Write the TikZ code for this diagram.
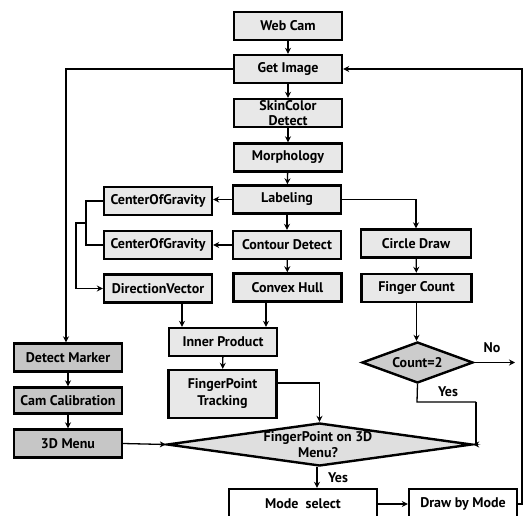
\documentclass[tikz,border=0pt]{standalone}
\usepackage{fontspec}
\setmainfont{PT Sans}
\usetikzlibrary{arrows.meta,shapes.geometric}
\begin{document}
\begin{tikzpicture}[x=1pt,y=-1pt,
  every node/.style={font=\bfseries\fontsize{14}{16}\selectfont},
  box/.style={draw,line width=2.4pt,fill=gray!18,minimum width=108pt,minimum height=28pt,inner sep=0pt,align=center},
  darkbox/.style={box,fill=gray!45},
  whitebox/.style={box,fill=white},
  dia/.style={draw,diamond,line width=2.4pt,inner sep=0pt},
  lbl/.style={inner sep=0pt,align=center},
  conn/.style={line width=1.3pt,-{Stealth[length=6pt,width=6pt]}},
  plain/.style={line width=1.3pt}]
\useasboundingbox (0,0) rectangle (525,516);
% boxes
\node[box] (webcam) at (288,26) {Web Cam};
\node[box] (getimg) at (288,69) {Get Image};
\node[box,font=\bfseries\fontsize{14}{16}\selectfont] (skin) at (288,113) {SkinColor\\[-1pt]Detect};
\node[box] (morph) at (288,157.5) {Morphology};
\node[box] (label) at (287,199.5) {Labeling};
\node[box] (cogA) at (158,201) {CenterOfGravity};
\node[box] (cogB) at (158,245) {CenterOfGravity};
\node[box] (contour) at (287,245) {Contour Detect};
\node[box,minimum width=110pt] (circle) at (416,243.5) {Circle Draw};
\node[box] (dirvec) at (158,288.5) {DirectionVector};
\node[box] (hull) at (287.5,287.5) {Convex Hull};
\node[box,minimum width=110pt] (fcount) at (416.5,288) {Finger Count};
\node[box] (inner) at (223,342) {Inner Product};
\node[box,minimum height=48pt,font=\bfseries\fontsize{14}{17}\selectfont] (fptrack) at (222.5,394) {FingerPoint\\Tracking};
\node[darkbox] (detect) at (68,357.5) {Detect Marker};
\node[darkbox,minimum height=26pt] (camcal) at (68,400.5) {Cam Calibration};
\node[darkbox] (menu) at (68,443.5) {3D Menu};
\node[dia,fill=gray!40,minimum width=111pt,minimum height=41pt] (count) at (417.5,362.5) {};
\node[lbl] (counttxt) at (417.5,362.5) {Count=2};
\node[dia,fill=gray!25,minimum width=305pt,minimum height=43pt] (fpmenu) at (319.5,444.5) {};
\node[lbl,font=\bfseries\fontsize{14}{16}\selectfont] (fpmenutxt) at (318,445) {FingerPoint on 3D\\Menu?};
\node[whitebox,minimum width=148pt,minimum height=30pt] (mode) at (303,504) {Mode\ \ select};
\node[whitebox,minimum height=30pt] (drawmode) at (463,504) {Draw by Mode};
% labels
\node[lbl] (no) at (492,348) {No};
\node[lbl] (yes1) at (448,392) {Yes};
\node[lbl] (yes2) at (338,478) {Yes};
% coordinates
\coordinate (bA) at (86,201);
\coordinate (bB) at (86,245);
\coordinate (bM) at (86,223);
\coordinate (bL) at (76,223);
\coordinate (leftrail) at (66,69);
\coordinate (rightrail) at (522,504);
\coordinate (noend) at (515,362.5);
\coordinate (yesturn) at (417,402);
\coordinate (yesrail) at (476,402);
% connectors
\draw[conn] (webcam) -- (getimg);
\draw[conn] (getimg) -- (skin);
\draw[conn] (skin) -- (morph);
\draw[conn] (morph) -- (label);
\draw[conn] (label.west) -- (cogA.east|-label.west);
\draw[conn] (label) -- (contour);
\draw[conn] (contour) -- (cogB);
\draw[conn] (contour) -- (hull);
\draw[conn] (label.east) -| (circle.north);
\draw[conn] (circle) -- (fcount);
\draw[conn] (fcount.south) -- (fcount.south|-count.north);
\draw[plain] (cogA.west) -- (bA) -- (bB) -- (cogB.west);
\draw[conn] (bM) -- (bL) |- (dirvec.west);
\draw[conn] (dirvec.south-|182,0) -- (inner.north-|182,0);
\draw[conn] (hull.south-|266,0) -- (inner.north-|266,0);
\draw[conn] (inner) -- (fptrack);
\draw[conn] (fptrack.east|-0,383) -| (fpmenu.north);
\draw[conn] (menu.east) -- (fpmenu.west);
\draw[plain] (count.south) -- (yesturn) -- (yesrail);
\draw[conn] (yesrail) |- (fpmenu.east);
\draw[conn] (count.east) -- (noend);
\draw[conn] (getimg.west) -- (leftrail) -- (leftrail|-detect.north);
\draw[conn] (detect) -- (camcal);
\draw[conn] (camcal) -- (menu);
\draw[conn] (fpmenu.south-|317,0) -- (mode.north-|317,0);
\draw[conn] (mode.east) -- (drawmode.west);
\draw[conn] (drawmode.east) -- (rightrail) |- (getimg.east);
\end{tikzpicture}
\end{document}
